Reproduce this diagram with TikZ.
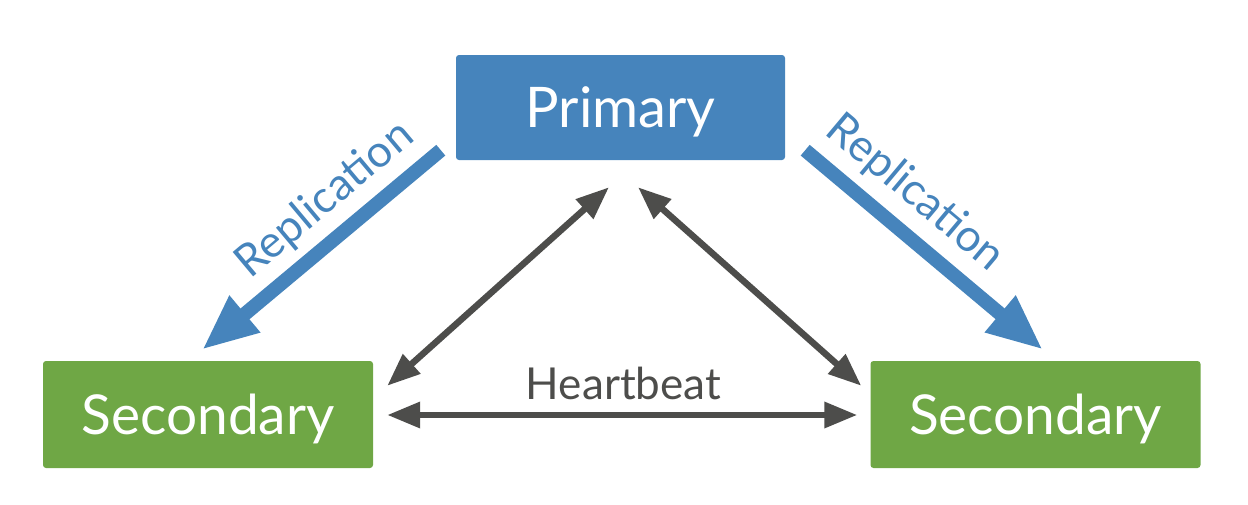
\documentclass[tikz,border=0pt]{standalone}
\usepackage{fontspec}
\setmainfont{Lato}
\usetikzlibrary{arrows.meta,calc}
\definecolor{PrimBlue}{RGB}{70,132,188}
\definecolor{SecGreen}{RGB}{111,167,69}
\definecolor{BeatGrey}{RGB}{77,77,75}
\tikzstyle{PrimaryBlock} = [rectangle, fill=PrimBlue, rounded corners=3pt, minimum width=329pt, minimum height=105pt, inner sep=0pt, text=white, font=\fontsize{56}{60}\selectfont, text height=40pt, text depth=0pt]
\tikzstyle{SecondaryBlock} = [PrimaryBlock, fill=SecGreen, minimum width=330pt, minimum height=107pt, font=\fontsize{55}{60}\selectfont]
\tikzstyle{RepLine} = [draw=PrimBlue, line width=14pt, -{Triangle[length=56pt,width=44pt]}]
\tikzstyle{RepText} = [text=PrimBlue, font=\fontsize{44.5}{48}\selectfont, inner sep=0pt]
\tikzstyle{BeatLine} = [draw=BeatGrey, line width=6.5pt, {Triangle[length=33pt,width=25pt]}-{Triangle[length=33pt,width=25pt]}]
\tikzstyle{BeatText} = [text=BeatGrey, font=\fontsize{44}{48}\selectfont, inner sep=0pt]

\begin{document}
\begin{tikzpicture}[x=1pt, y=-1pt]
    \useasboundingbox (0,0) rectangle (1248,504);
    \node[PrimaryBlock]   (primary)   at (620.5,107.5) {Primary};
    \node[SecondaryBlock] (secleft)   at (208,414.5)   {Secondary};
    \node[SecondaryBlock] (secright)  at (1035.5,414.5) {Secondary};
    \node[BeatText, anchor=base]  (beat)     at (623.5,399) {Heartbeat};
    \node[RepText, rotate=40]     (repleft)  at (325,200)   {Replication};
    \node[RepText, rotate=-40]    (repright) at (915,193)   {Replication};
    % replication
    \draw[RepLine] ($(primary.south west)+(-15,-10)$) -- ($(secleft.north)+(-6,-11)$);
    \draw[RepLine] ($(primary.south east)+(20,-10)$)  -- ($(secright.north)+(7.5,-11)$);
    % heartbeat
    \draw[BeatLine] ($(primary.south)+(-11.5,27)$)   -- ($(secleft.north east)+(14,25)$);
    \draw[BeatLine] ($(primary.south)+(17.5,27)$)    -- ($(secright.north west)+(-9,25)$);
    \draw[BeatLine] ($(secleft.east)+(14,0.5)$)      -- ($(secright.west)+(-13,0.5)$);
  \end{tikzpicture}
\end{document}
